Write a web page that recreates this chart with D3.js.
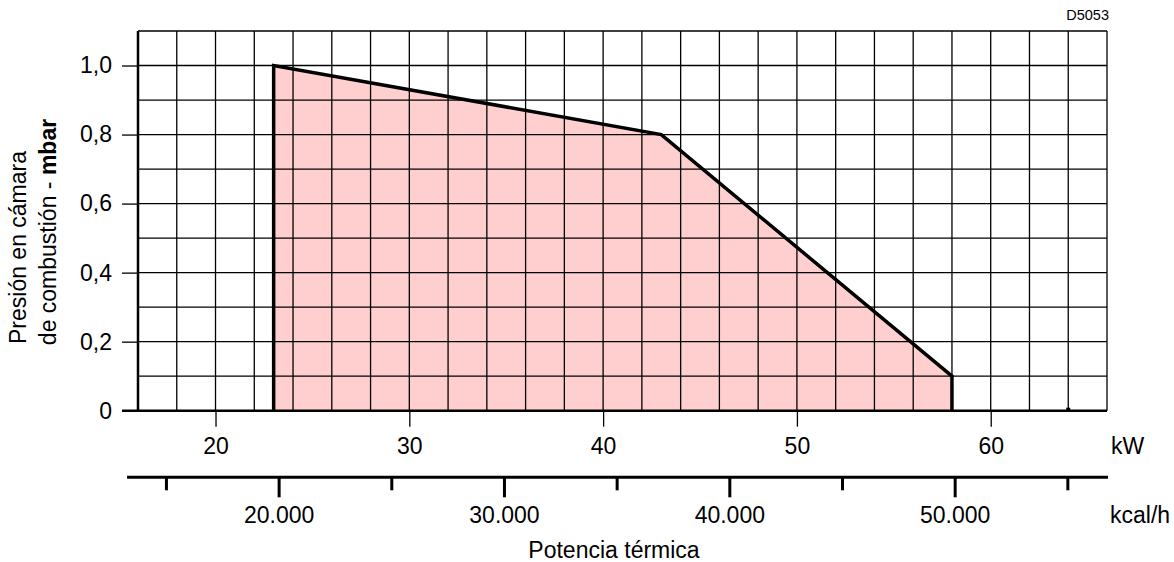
<!DOCTYPE html>
<html>
<head>
<meta charset="utf-8">
<script src="https://cdn.jsdelivr.net/npm/d3@7"></script>
<style>
  html, body { margin: 0; padding: 0; background: #fff; }
  svg { display: block; font-family: "Liberation Sans", Arial, sans-serif; }
</style>
</head>
<body>
<svg id="chart" width="1174" height="562"></svg>
<script>
// ---- data ----
const kwDomain = [16, 66];
const pressureDomain = [0, 1.1];
const areaKW = [23, 23, 43, 58, 58];
const areaMbar = [0, 1.0, 0.8, 0.1, 0];
const kwTicks = [20, 30, 40, 50, 60];
const yTicks = [0, 0.2, 0.4, 0.6, 0.8, 1.0];
const yTickLabels = ["0", "0,2", "0,4", "0,6", "0,8", "1,0"];
const kcalMajorTicks = [20000, 30000, 40000, 50000];
const kcalMajorLabels = ["20.000", "30.000", "40.000", "50.000"];
const kcalMinorTicks = [15000, 25000, 35000, 45000, 55000];
const kcalPerKW = 860;
const markerKW = [64];

// ---- layout ----
const pL = 138, pR = 1107, pT = 31, pB = 410.7;
const FS = 23;
const FF = "Liberation Sans, Arial, sans-serif";
const svg = d3.select("#chart");

const x = d3.scaleLinear().domain(kwDomain).range([pL, pR]);
const y = d3.scaleLinear().domain(pressureDomain).range([pB, pT]);
const xk = d3.scaleLinear().domain(kwDomain.map(d => d * kcalPerKW)).range([pL, pR]);

// grid
const gridX = d3.range(kwDomain[0], kwDomain[1] + 0.001, 2);
const gridY = d3.range(0, 1.1001, 0.1);

// fill area
const pts = areaKW.map((k, i) => [x(k), y(areaMbar[i])]);
svg.append("path")
  .attr("d", d3.line()(pts) + "Z")
  .attr("fill", "#ffcfcf")
  .attr("stroke", "none");

const grid = svg.append("g").attr("stroke", "#000").attr("stroke-width", 1.3);
grid.selectAll("line.v").data(gridX).join("line").attr("class", "v")
  .attr("x1", d => x(d)).attr("x2", d => x(d))
  .attr("y1", pT).attr("y2", pB);
grid.selectAll("line.h").data(gridY).join("line").attr("class", "h")
  .attr("x1", pL).attr("x2", pR)
  .attr("y1", d => y(d)).attr("y2", d => y(d));

// left border thick
svg.append("line").attr("x1", pL).attr("x2", pL).attr("y1", pT).attr("y2", pB)
  .attr("stroke", "#000").attr("stroke-width", 2.5);

// outline of the area (no bottom)
svg.append("path")
  .attr("d", d3.line()(pts))
  .attr("fill", "none")
  .attr("stroke", "#000")
  .attr("stroke-width", 3.5)
  .attr("stroke-linejoin", "miter");

// x axis baseline (kW)
svg.append("line").attr("x1", 122).attr("x2", pR).attr("y1", y(0)).attr("y2", y(0))
  .attr("stroke", "#000").attr("stroke-width", 2.5);

// small marker at 64 kW
svg.selectAll("rect.mk").data(markerKW).join("rect").attr("class", "mk")
  .attr("x", d => x(d) - 2).attr("y", y(0) - 3).attr("width", 4).attr("height", 3).attr("fill", "#000");

// kW axis
const xAxis = d3.axisBottom(x).tickValues(kwTicks).tickSize(16).tickPadding(11).tickFormat(d3.format("d"));
const gx = svg.append("g").attr("transform", `translate(0,${y(0)})`).call(xAxis);
gx.select(".domain").remove();
gx.attr("font-size", FS).attr("font-family", FF);
gx.selectAll(".tick line").attr("stroke", "#000").attr("stroke-width", 1.3);
gx.selectAll(".tick text").attr("fill", "#000");

svg.append("text").attr("x", 1111).attr("y", 454).attr("font-size", FS).text("kW");

// y axis
const yAxis = d3.axisLeft(y).tickValues(yTicks).tickSize(16).tickPadding(10)
  .tickFormat((d, i) => yTickLabels[i]);
const gy = svg.append("g").attr("transform", `translate(${pL},0)`).call(yAxis);
gy.select(".domain").remove();
gy.attr("font-size", FS).attr("font-family", FF);
gy.selectAll(".tick line").attr("stroke", "#000").attr("stroke-width", 1.3);
gy.selectAll(".tick text").attr("fill", "#000");

// kcal/h axis
const kY = 477.3;
svg.append("line").attr("x1", 127).attr("x2", 1108).attr("y1", kY).attr("y2", kY)
  .attr("stroke", "#000").attr("stroke-width", 3);
const kAxisMaj = d3.axisBottom(xk).tickValues(kcalMajorTicks).tickSize(20).tickPadding(9)
  .tickFormat((d, i) => kcalMajorLabels[i]);
const gk = svg.append("g").attr("transform", `translate(0,${kY})`).call(kAxisMaj);
gk.select(".domain").remove();
gk.attr("font-size", FS).attr("font-family", FF);
gk.selectAll(".tick line").attr("stroke", "#000").attr("stroke-width", 3);
gk.selectAll(".tick text").attr("fill", "#000");
const kAxisMin = d3.axisBottom(xk).tickValues(kcalMinorTicks).tickSize(13).tickFormat("");
const gkm = svg.append("g").attr("transform", `translate(0,${kY})`).call(kAxisMin);
gkm.select(".domain").remove();
gkm.selectAll(".tick line").attr("stroke", "#000").attr("stroke-width", 3);

svg.append("text").attr("x", 1110).attr("y", 523).attr("font-size", FS).text("kcal/h");

// x title
svg.append("text").attr("x", 614).attr("y", 558).attr("text-anchor", "middle")
  .attr("font-size", FS).text("Potencia térmica");

// y title
svg.append("text").attr("transform", "translate(26,247.5) rotate(-90)")
  .attr("text-anchor", "middle").attr("font-size", FS).text("Presión en cámara");
const yt2 = svg.append("text").attr("transform", "translate(56,232) rotate(-90)")
  .attr("text-anchor", "middle").attr("font-size", FS);
yt2.append("tspan").text("de combustión - ");
yt2.append("tspan").attr("font-weight", "bold").text("mbar");

// code label
svg.append("text").attr("x", 1109).attr("y", 20).attr("text-anchor", "end")
  .attr("font-size", 14.5).text("D5053");
</script>
</body>
</html>
